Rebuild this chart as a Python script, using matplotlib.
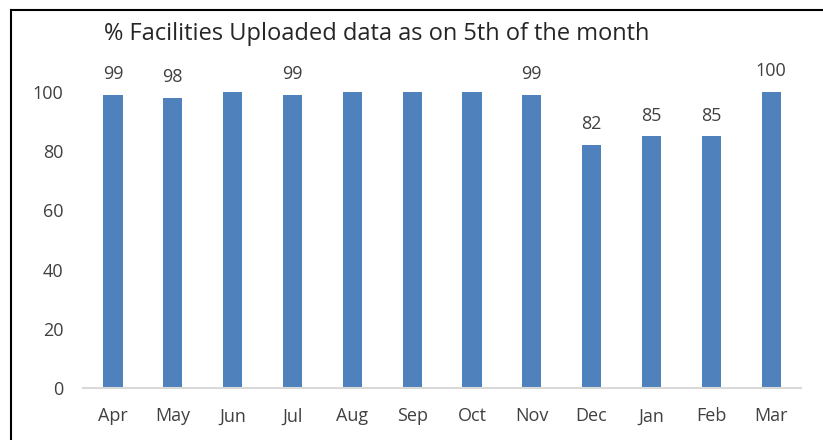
import matplotlib
matplotlib.use('Agg')
import matplotlib.pyplot as plt
from matplotlib.lines import Line2D

# Data
months = ["Apr", "May", "Jun", "Jul", "Aug", "Sep", "Oct", "Nov", "Dec", "Jan", "Feb", "Mar"]
values = [99, 98, 100, 99, 100, 100, 100, 99, 82, 85, 85, 100]
bar_labels = ["99", "98", "", "99", "", "", "", "99", "82", "85", "85", "100"]
title = "% Facilities Uploaded data as on 5th of the month"

plt.rcParams['font.family'] = ['Open Sans', 'DejaVu Sans']
text_color = '#404040'

fig = plt.figure(figsize=(8.23, 4.4), dpi=100)
ax = fig.add_axes([0.1009, 0.1182, 0.8724, 0.6727])

x = range(len(months))
bars = ax.bar(x, values, width=0.32, color='#4F81BD', zorder=2)

# Data labels (only some bars carry one)
for bar, lab in zip(bars, bar_labels):
    if lab:
        ax.text(bar.get_x() + bar.get_width() / 2, bar.get_height() + 4, lab,
                ha='center', va='bottom', fontsize=13, color=text_color, clip_on=False)

ax.set_xlim(-0.5, len(months) - 0.5)
ax.set_ylim(0, 100)
ax.set_yticks([0, 20, 40, 60, 80, 100])
ax.set_xticks(list(x))
ax.set_xticklabels(months)
ax.tick_params(axis='both', length=0, labelsize=13, colors=text_color)
ax.tick_params(axis='x', pad=14)
ax.tick_params(axis='y', pad=14)

for side in ['top', 'right', 'left']:
    ax.spines[side].set_visible(False)
ax.spines['bottom'].set_color('#D9D9D9')
ax.spines['bottom'].set_linewidth(1.5)

fig.text(0.458, 0.922, title, ha='center', va='center', fontsize=17, color='#262626')

# Chart border (cropped: only top and left edges visible)
fig.add_artist(Line2D([11 / 823, 1.0], [1 - 10 / 440, 1 - 10 / 440],
                      transform=fig.transFigure, color='black', linewidth=1.5))
fig.add_artist(Line2D([11 / 823, 11 / 823], [0, 1 - 10 / 440],
                      transform=fig.transFigure, color='black', linewidth=1.5))

fig.savefig('out.png', dpi=100)
